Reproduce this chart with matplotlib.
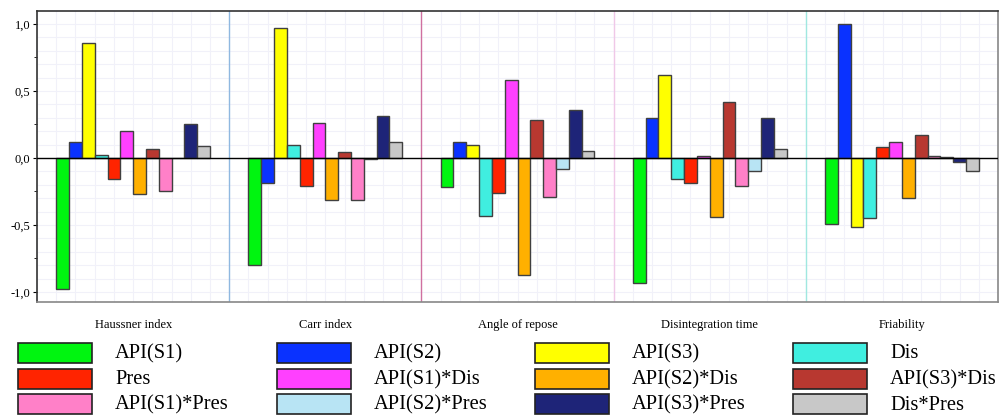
import matplotlib
matplotlib.use("Agg")
import matplotlib.pyplot as plt
import numpy as np
from matplotlib.patches import Rectangle
from matplotlib.ticker import MultipleLocator, FuncFormatter

# responses (groups on the x axis)
responses = ["Haussner index", "Carr index", "Angle of repose",
             "Disintegration time", "Friability"]

# model terms, in bar order
terms = ["API(S1)", "API(S2)", "API(S3)", "Dis", "Pres",
         "API(S1)*Dis", "API(S2)*Dis", "API(S3)*Dis",
         "API(S1)*Pres", "API(S2)*Pres", "API(S3)*Pres", "Dis*Pres"]

termColors = ["#00f510", "#0a32ff", "#ffff00", "#40eee0", "#ff2400",
              "#ff40ff", "#ffb000", "#b83830",
              "#ff80c8", "#b8e4f4", "#1e2478", "#c8c8c8"]

# coefficients, one list per response (same order as terms)
haussner = [-0.98, 0.12, 0.86, 0.02, -0.16, 0.20, -0.27, 0.07, -0.25, 0.0, 0.25, 0.09]
carr     = [-0.80, -0.19, 0.97, 0.095, -0.21, 0.26, -0.31, 0.045, -0.31, -0.008, 0.31, 0.12]
angle    = [-0.22, 0.12, 0.095, -0.435, -0.26, 0.58, -0.87, 0.28, -0.29, -0.08, 0.36, 0.05]
disint   = [-0.93, 0.30, 0.62, -0.16, -0.19, 0.015, -0.44, 0.42, -0.21, -0.10, 0.295, 0.065]
friab    = [-0.495, 1.0, -0.515, -0.45, 0.08, 0.12, -0.295, 0.17, 0.017, 0.007, -0.03, -0.10]

sepColors = ["#8fb8e0", "#d070a0", "#f0c8e8", "#a0e8e0"]

serif = "Liberation Serif"

data = np.array([haussner, carr, angle, disint, friab])
nG, nT = data.shape

fig = plt.figure(figsize=(10.01, 4.16), dpi=100)
ax = fig.add_axes([0.037, 0.274, 0.96, 0.6996])

w = 0.8 / nT
xg = np.arange(nG)
for i in range(nT):
    ax.bar(xg + (i - (nT - 1) / 2) * w, data[:, i], width=w,
           color=termColors[i], edgecolor="#404040", linewidth=1.0, zorder=3)

ax.axhline(0, color="black", lw=1.0, zorder=4)
for k in range(nG - 1):
    ax.axvline(k + 0.5, color=sepColors[k], lw=1.0, zorder=2)

ax.set_xlim(-0.5, nG - 0.5)
ax.set_ylim(-1.075, 1.097)

# light grid
for gx in np.arange(-0.5, nG - 0.5, 0.1):
    ax.axvline(gx, color="#f1f1f9", lw=0.8, zorder=1)
for gy in np.arange(-1.0, 1.05, 0.1):
    ax.axhline(gy, color="#f1f1f9", lw=0.8, zorder=1)

ax.yaxis.set_major_locator(MultipleLocator(0.5))
ax.yaxis.set_minor_locator(MultipleLocator(0.25))
ax.yaxis.set_major_formatter(FuncFormatter(lambda v, p: ("%.1f" % v).replace(".", ",")))
ax.tick_params(axis="y", which="major", length=3, labelsize=9, pad=2)
ax.tick_params(axis="y", which="minor", length=2)
for lab in ax.get_yticklabels():
    lab.set_fontfamily(serif)

ax.set_xticks(xg)
ax.set_xticklabels(responses, fontsize=9, family=serif)
ax.tick_params(axis="x", length=0, pad=12)

ax.spines["top"].set_color("#333333")
ax.spines["left"].set_color("#333333")
ax.spines["bottom"].set_color("#888888")
ax.spines["right"].set_color("#888888")
for s in ax.spines.values():
    s.set_linewidth(1.2)

# legend drawn by hand, row-major like the original
W, H = 1001.0, 416.0
colX = [18, 277, 535, 793]
rowY = [343, 368.5, 394]
for i, (t, c) in enumerate(zip(terms, termColors)):
    r, col = divmod(i, 4)
    x0 = colX[col]
    y0 = rowY[r]
    fig.patches.append(Rectangle((x0 / W, 1 - (y0 + 20) / H), 74 / W, 20 / H,
                                 transform=fig.transFigure, facecolor=c,
                                 edgecolor="#222222", linewidth=1.2))
    fig.text((x0 + 97) / W, 1 - (y0 + 11) / H, t, fontsize=14.8, family=serif,
             va="center", ha="left")

fig.savefig("out.png", dpi=100)
